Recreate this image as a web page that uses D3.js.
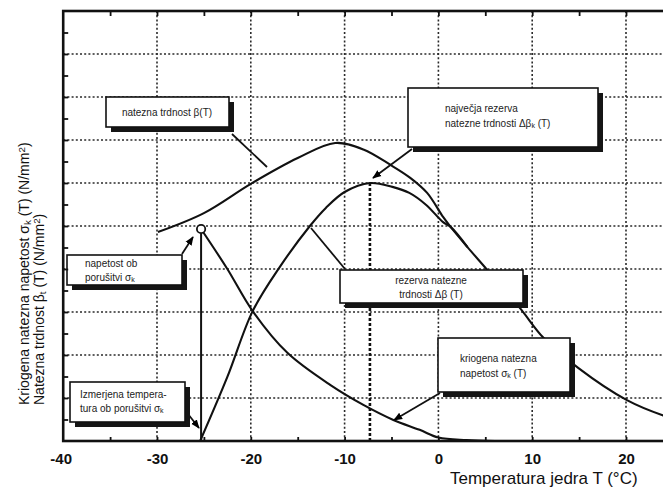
<!DOCTYPE html>
<html>
<head>
<meta charset="utf-8">
<script src="https://cdn.jsdelivr.net/npm/d3@7"></script>
<style>
  body { margin: 0; background: #fff; }
  svg { display: block; font-family: "Liberation Sans", Arial, sans-serif; }
</style>
</head>
<body>
<div id="chart"></div>
<script>
// values (y in grid units, 10 divisions)
var tempTicks = [-40, -30, -20, -10, 0, 10, 20];

// natezna trdnost beta(T)
var betaT = [-29.9, -25, -20, -15, -11, -8, -5.1, -3, -1.2, 0.5, 1.3, 3.1, 5.2, 8.7, 11.2, 14.9, 20.1, 23.9, 27];
var betaV = [4.86, 5.30, 5.98, 6.58, 6.93, 6.78, 6.42, 6.12, 5.77, 5.21, 4.98, 4.51, 3.98, 3.09, 2.40, 1.70, 0.95, 0.60, 0.42];

// rezerva natezne trdnosti delta beta(T)
var rezT = [-25.4, -22.5, -19.8, -16.9, -13.7, -12, -10, -7.3, -4.9, -3.1, -1.3, 0.5, 1.3, 3.1];
var rezV = [0, 1.49, 3.02, 4.05, 5.0, 5.42, 5.79, 6.0, 5.91, 5.77, 5.49, 5.09, 4.98, 4.51];

// kriogena natezna napetost sigma(T)
var sigT = [-25.3, -22.5, -19.8, -16.1, -11.5, -8, -4.8, -2, 0, 3, 6];
var sigV = [4.93, 4.0, 3.02, 2.05, 1.30, 0.84, 0.49, 0.26, 0.08, 0.02, 0];

var failT = -25.3;   // izmerjena temperatura ob porusitvi
var peakT = -7.3;    // najvecja rezerva

var WIDTH = 663, HEIGHT = 491;

var svg = d3.select("#chart").append("svg")
    .attr("width", WIDTH)
    .attr("height", HEIGHT);

var x = d3.scaleLinear().domain([-40, 30]).range([63.2, 719.8]);
var y = d3.scaleLinear().domain([0, 10]).range([441, 11]);

// arrow marker
svg.append("defs").append("marker")
    .attr("id", "arr")
    .attr("viewBox", "0 0 10 10")
    .attr("refX", 9).attr("refY", 5)
    .attr("markerWidth", 5).attr("markerHeight", 5)
    .attr("orient", "auto")
  .append("path")
    .attr("d", "M0,1 L10,5 L0,9 z")
    .attr("fill", "#000");

// dotted grid
var grid = svg.append("g");
grid.selectAll("line.gv").data([-30, -20, -10, 0, 10, 20])
  .enter().append("line")
    .attr("class", "gv")
    .attr("x1", d => x(d)).attr("x2", d => x(d))
    .attr("y1", y(10)).attr("y2", y(0));
grid.selectAll("line.gh").data(d3.range(1, 10))
  .enter().append("line")
    .attr("class", "gh")
    .attr("x1", x(-40)).attr("x2", x(30))
    .attr("y1", d => y(d)).attr("y2", d => y(d));
grid.selectAll("line")
    .attr("stroke", "#2a2a2a")
    .attr("stroke-width", 1.6)
    .attr("stroke-dasharray", "2,2.2");

// curves
var line = d3.line()
    .x(d => x(d[0])).y(d => y(d[1]))
    .curve(d3.curveCatmullRom.alpha(0.5));

var curves = [d3.zip(betaT, betaV), d3.zip(rezT, rezV), d3.zip(sigT, sigV)];
svg.selectAll("path.curve").data(curves)
  .enter().append("path")
    .attr("class", "curve")
    .attr("d", line)
    .attr("fill", "none")
    .attr("stroke", "#111")
    .attr("stroke-width", 2.1);

// vertical line at failure temperature
svg.append("line")
    .attr("x1", x(failT)).attr("x2", x(failT))
    .attr("y1", y(sigV[0]) + 4).attr("y2", y(0))
    .attr("stroke", "#111").attr("stroke-width", 2);

// dashed line at maximum reserve
svg.append("line")
    .attr("x1", x(peakT)).attr("x2", x(peakT))
    .attr("y1", y(d3.max(rezV))).attr("y2", y(0))
    .attr("stroke", "#111").attr("stroke-width", 2.6)
    .attr("stroke-dasharray", "3,2");

svg.append("circle")
    .attr("cx", x(failT)).attr("cy", y(sigV[0]))
    .attr("r", 4.2)
    .attr("fill", "#fff").attr("stroke", "#111").attr("stroke-width", 1.8);

// text with _sub and ^sup single characters
function rich(textSel, str) {
  var re = /([_^])(.)/g, last = 0, m;
  while ((m = re.exec(str)) !== null) {
    if (m.index > last) textSel.append("tspan").text(str.slice(last, m.index));
    textSel.append("tspan")
      .attr("font-size", "70%")
      .attr("baseline-shift", m[1] == "_" ? "-0.2em" : "0.45em")
      .text(m[2]);
    last = re.lastIndex;
  }
  if (last < str.length) textSel.append("tspan").text(str.slice(last));
}

// annotation boxes
var notes = [
  { b: [106, 97, 123, 30], tx: 167, anchor: "middle", base: [116], lines: ["natezna trdnost β(T)"],
    from: [232, 134], to: [267, 167], arrow: false },
  { b: [408, 88, 190, 59], tx: 445, anchor: "start", base: [112, 127], lines: ["največja rezerva", "natezne trdnosti Δβ_k (T)"],
    from: [412, 149], to: [373, 178], arrow: true },
  { b: [67, 255, 115, 30], tx: 85, anchor: "start", base: [267, 281], lines: ["napetost ob", "porušitvi σ_k"],
    from: [182, 254], to: [193, 237], arrow: true },
  { b: [70, 382, 115, 40], tx: 80, anchor: "start", base: [398, 412], lines: ["Izmerjena tempera-", "tura ob porušitvi σ_k"],
    from: [188, 414], to: [199, 428], arrow: true },
  { b: [340, 270, 183, 33], tx: 431, anchor: "middle", base: [284, 298], lines: ["rezerva natezne", "trdnosti Δβ (T)"],
    from: [345, 269], to: [311, 228], arrow: false },
  { b: [438, 338, 132, 54], tx: 460, anchor: "start", base: [362, 377], lines: ["kriogena natezna", "napetost σ_k (T)"],
    from: [440, 393], to: [394, 420], arrow: true }
];

var ng = svg.selectAll("g.note").data(notes).enter().append("g").attr("class", "note");
ng.append("line")
    .attr("x1", d => d.from[0]).attr("y1", d => d.from[1])
    .attr("x2", d => d.to[0]).attr("y2", d => d.to[1])
    .attr("stroke", "#111").attr("stroke-width", 1.8)
    .attr("marker-end", d => d.arrow ? "url(#arr)" : null);
ng.append("rect")
    .attr("x", d => d.b[0] + 5).attr("y", d => d.b[1] + 5)
    .attr("width", d => d.b[2]).attr("height", d => d.b[3])
    .attr("fill", "#151515");
ng.append("rect")
    .attr("x", d => d.b[0]).attr("y", d => d.b[1])
    .attr("width", d => d.b[2]).attr("height", d => d.b[3])
    .attr("fill", "#fff").attr("stroke", "#111").attr("stroke-width", 1.6);
ng.each(function (d) {
  var g = d3.select(this);
  d.lines.forEach(function (s, i) {
    var t = g.append("text")
        .attr("x", d.tx).attr("y", d.base[i])
        .attr("text-anchor", d.anchor)
        .attr("font-size", 10)
        .attr("fill", "#222");
    rich(t, s);
  });
});

// frame
svg.append("rect")
    .attr("x", x(-40)).attr("y", y(10))
    .attr("width", x(30) - x(-40)).attr("height", y(0) - y(10))
    .attr("fill", "none").attr("stroke", "#111").attr("stroke-width", 2.6);

// inward ticks
var topAxis = svg.append("g").attr("transform", "translate(0," + y(10) + ")")
    .call(d3.axisTop(x).tickValues(d3.range(-35, 30, 5)).tickSize(-5).tickFormat(""));
var bottomAxis = svg.append("g").attr("transform", "translate(0," + y(0) + ")")
    .call(d3.axisBottom(x).tickValues(d3.range(-35, 30, 5)).tickSize(-4).tickPadding(12)
      .tickFormat(d => tempTicks.indexOf(d) >= 0 ? d : ""));
var leftAxis = svg.append("g").attr("transform", "translate(" + x(-40) + ",0)")
    .call(d3.axisLeft(y).tickValues(d3.range(0.5, 10, 0.5)).tickSize(-5).tickFormat(""));

[topAxis, bottomAxis, leftAxis].forEach(function (a) {
  a.select(".domain").remove();
  a.selectAll(".tick line").attr("stroke", "#111").attr("stroke-width", 1.8);
});
bottomAxis.selectAll(".tick text")
    .attr("font-size", 15).attr("font-weight", "bold")
    .attr("font-family", "\"Liberation Sans\", Arial, sans-serif")
    .attr("fill", "#111");
// "-40" label sits under the frame corner
bottomAxis.append("text")
    .attr("x", x(-40) - 2).attr("y", 12).attr("dy", "0.71em")
    .attr("text-anchor", "middle")
    .attr("font-size", 15).attr("font-weight", "bold").attr("fill", "#111")
    .text("-40");

// axis titles
svg.append("text")
    .attr("x", 450).attr("y", 484)
    .attr("font-size", 17).attr("fill", "#111")
    .text("Temperatura jedra T (°C)");

var yl1 = svg.append("text")
    .attr("transform", "translate(29,405) rotate(-90)")
    .attr("font-size", 14).attr("fill", "#111");
rich(yl1, "Kriogena natezna napetost σ_k (T) (N/mm^2)");
var yl2 = svg.append("text")
    .attr("transform", "translate(44,405) rotate(-90)")
    .attr("font-size", 14).attr("fill", "#111");
rich(yl2, "Natezna trdnost β_t (T) (N/mm^2)");
</script>
</body>
</html>
